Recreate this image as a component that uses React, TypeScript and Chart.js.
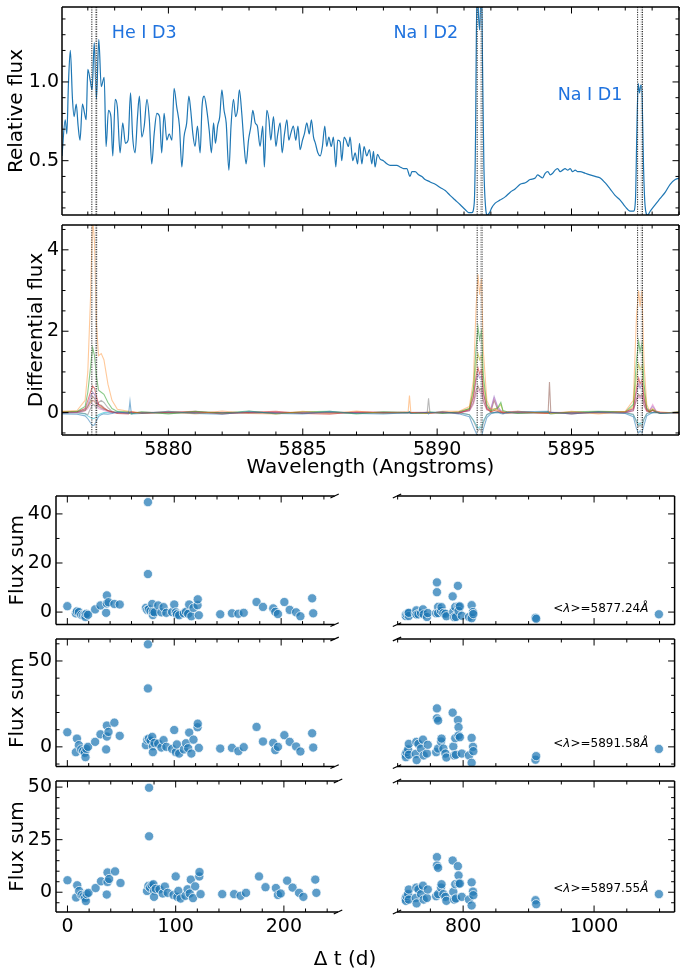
import React, { useEffect, useRef } from 'react';
import { Chart, registerables } from 'chart.js';
Chart.register(...registerables);

const FAMILY = "'DejaVu Sans', 'Liberation Sans', sans-serif";

// ---------------- spectrum (top panel) ----------------
const specWave = [
  5876.04, 5876.16, 5876.22, 5876.28, 5876.35, 5876.43, 5876.49, 5876.57, 5876.64, 5876.71,
  5876.80, 5876.88, 5876.94, 5877.00, 5877.09, 5877.16, 5877.24, 5877.32, 5877.41, 5877.50,
  5877.61, 5877.68, 5877.77, 5877.86, 5877.93, 5878.02, 5878.10, 5878.20, 5878.30, 5878.40,
  5878.50, 5878.59, 5878.67, 5878.76, 5878.85, 5878.92, 5879.01, 5879.10, 5879.20, 5879.29,
  5879.38, 5879.47, 5879.57, 5879.67, 5879.75, 5879.84, 5879.94, 5880.03, 5880.13, 5880.21,
  5880.31, 5880.41, 5880.50, 5880.58, 5880.68, 5880.76, 5880.83, 5880.91, 5880.99, 5881.08,
  5881.18, 5881.25, 5881.33, 5881.43, 5881.52, 5881.60, 5881.68, 5881.75, 5881.83, 5881.91,
  5881.99, 5882.07, 5882.15, 5882.25, 5882.33, 5882.42, 5882.50, 5882.57, 5882.64, 5882.73,
  5882.82, 5882.89, 5882.98, 5883.07, 5883.14, 5883.23, 5883.31, 5883.41, 5883.51, 5883.57,
  5883.66, 5883.74, 5883.81, 5883.91, 5884.00, 5884.07, 5884.16, 5884.23, 5884.32, 5884.41,
  5884.48, 5884.55, 5884.65, 5884.74, 5884.82, 5884.90, 5884.99, 5885.06, 5885.15, 5885.24,
  5885.32, 5885.40, 5885.47, 5885.56, 5885.65, 5885.73, 5885.82, 5885.89, 5885.97, 5886.06,
  5886.14, 5886.23, 5886.30, 5886.39,
  5886.45, 5886.54, 5886.61, 5886.70, 5886.76, 5886.86, 5886.95, 5887.04, 5887.11, 5887.20,
  5887.28, 5887.38, 5887.48, 5887.57, 5887.63, 5887.69, 5887.78, 5887.88, 5888.00, 5888.13,
  5888.25, 5888.37, 5888.50, 5888.62, 5888.75, 5888.87, 5888.99, 5889.06, 5889.18, 5889.31,
  5889.43, 5889.55, 5889.68, 5889.80, 5889.93, 5890.11, 5890.30, 5890.48, 5890.67, 5890.86,
  5891.04, 5891.17, 5891.29, 5891.38, 5891.43, 5891.46, 5891.50, 5891.54, 5891.58, 5891.61,
  5891.65, 5891.69, 5891.74, 5891.80, 5891.87, 5891.95, 5892.03, 5892.16, 5892.34, 5892.53,
  5892.72, 5892.90, 5893.09, 5893.28, 5893.46, 5893.65, 5893.74, 5893.83, 5893.92, 5894.02,
  5894.12, 5894.21, 5894.30, 5894.39, 5894.48, 5894.58, 5894.67, 5894.76, 5894.86, 5894.95,
  5895.04, 5895.14, 5895.23, 5895.32, 5895.51, 5895.69, 5895.88, 5896.07, 5896.25, 5896.44,
  5896.62, 5896.81, 5896.99, 5897.18, 5897.31, 5897.38, 5897.43, 5897.48, 5897.53, 5897.58,
  5897.63, 5897.68, 5897.74, 5897.83, 5897.93, 5898.11, 5898.30, 5898.49, 5898.67, 5898.86,
  5899.04,
];
const specFlux = [
  0.53, 0.76, 0.67, 0.99, 1.20, 0.89, 0.78, 0.86, 0.72, 0.63,
  0.86, 0.80, 0.76, 1.08, 1.01, 0.95, 1.25, 0.89, 1.27, 0.97,
  1.03, 0.59, 0.82, 0.78, 0.53, 0.89, 0.84, 0.55, 0.74, 0.61,
  0.63, 0.93, 0.65, 0.55, 0.78, 0.91, 0.65, 0.72, 0.89, 0.76,
  0.48, 0.67, 0.80, 0.78, 0.55, 0.80, 0.63, 0.67, 0.63, 0.96,
  0.84, 0.72, 0.46, 0.65, 0.74, 0.91, 0.82, 0.67, 0.59, 0.72,
  0.55, 0.84, 0.91, 0.82, 0.69, 0.55, 0.74, 0.61, 0.72, 0.78,
  0.95, 0.82, 0.74, 0.44, 0.72, 0.89, 0.78, 0.82, 0.95, 0.80,
  0.59, 0.48, 0.63, 0.72, 0.82, 0.74, 0.72, 0.59, 0.72, 0.46,
  0.82, 0.76, 0.63, 0.78, 0.59, 0.67, 0.74, 0.55, 0.67, 0.76,
  0.63, 0.67, 0.72, 0.63, 0.72, 0.57, 0.63, 0.67, 0.74, 0.67,
  0.76, 0.65, 0.61, 0.55, 0.53, 0.59, 0.72, 0.59, 0.65, 0.59,
  0.65, 0.46, 0.63, 0.62,
  0.50, 0.65, 0.63, 0.59, 0.65, 0.50, 0.55, 0.48, 0.61, 0.48,
  0.59, 0.53, 0.57, 0.48, 0.56, 0.46, 0.54, 0.51, 0.50, 0.48,
  0.47, 0.47, 0.47, 0.46, 0.45, 0.45, 0.40, 0.43, 0.43, 0.41,
  0.40, 0.38, 0.37, 0.36, 0.35, 0.33, 0.31, 0.28, 0.25, 0.22,
  0.19, 0.17, 0.17, 0.23, 0.67, 1.31, 1.60, 1.42, 1.33, 1.44,
  1.60, 1.10, 0.46, 0.21, 0.155, 0.17, 0.20, 0.23, 0.25, 0.27,
  0.30, 0.32, 0.35, 0.36, 0.38, 0.39, 0.41, 0.40, 0.39, 0.42,
  0.43, 0.41, 0.42, 0.44, 0.45, 0.43, 0.44, 0.45, 0.44, 0.45,
  0.43, 0.44, 0.43, 0.43, 0.42, 0.41, 0.40, 0.39, 0.36, 0.32,
  0.28, 0.25, 0.21, 0.18, 0.18, 0.25, 0.67, 0.99, 0.93, 0.98,
  0.89, 0.46, 0.21, 0.155, 0.18, 0.22, 0.26, 0.30, 0.35, 0.38,
  0.39,
];

const lineCenters = [5877.24, 5891.58, 5897.55];
const lineNames = ['He I D3', 'Na I D2', 'Na I D1'];
const lineNameWave = [5879.1, 5889.58, 5895.69];
const lineNameFlux = [1.311, 1.311, 0.913];

// ---------------- differential flux (second panel) ----------------
const diffWave = [
  5876.04, 5876.6, 5876.9, 5877.0, 5877.1, 5877.18, 5877.25, 5877.32, 5877.4, 5877.5, 5877.6, 5877.75, 5877.9, 5878.1, 5878.52, 5878.57, 5878.62, 5879.0,
  5880.0, 5881.0, 5882.0, 5883.0, 5884.0, 5885.0, 5886.0, 5887.0, 5888.0,
  5888.92, 5888.97, 5889.02, 5889.63, 5889.68, 5889.73, 5890.2,
  5890.8, 5891.2, 5891.35, 5891.45, 5891.52, 5891.58, 5891.65, 5891.72, 5891.85, 5892.0, 5892.12, 5892.25, 5892.37, 5892.45, 5892.6, 5893.0,
  5894.13, 5894.18, 5894.23, 5895.0, 5896.0,
  5897.0, 5897.3, 5897.42, 5897.5, 5897.55, 5897.62, 5897.7, 5897.8, 5897.9, 5898.02, 5898.15, 5898.3, 5899.0,
];
const diffBlue = [
  -0.03, -0.04, -0.08, -0.15, -0.25, -0.32, -0.3, -0.2, -0.1, -0.05, -0.03, -0.04, -0.02, 0.02, -0.02, 0.28, -0.03, -0.02,
  0.03, -0.02, -0.04, 0.03, -0.02, -0.03, 0.03, -0.02, -0.03,
  0.0, 0.02, -0.02, 0.01, -0.03, 0.0, 0.02,
  -0.03, -0.1, -0.35, -0.5, -0.6, -0.55, -0.6, -0.4, -0.12, -0.03, 0.0, 0.02, -0.02, -0.03, 0.0, 0.02,
  0.03, -0.02, 0.01, -0.03, 0.02,
  -0.02, -0.1, -0.4, -0.5, -0.45, -0.5, -0.3, -0.08, -0.04, 0.0, 0.02, -0.02, 0.0,
];
const diffOrange = [
  0.03, 0.05, 0.3, 1.0, 2.8, 4.8, 4.2, 2.2, 1.4, 1.45, 1.3, 0.7, 0.3, 0.08, 0.03, 0.02, 0.03, -0.02,
  0.03, -0.03, 0.04, -0.02, -0.03, 0.03, -0.02, 0.04, -0.02,
  0.02, 0.42, 0.01, -0.02, 0.03, -0.02, 0.03,
  0.03, 0.15, 0.8, 2.6, 3.4, 2.9, 3.3, 1.5, 0.3, 0.08, 0.1, 0.05, 0.03, 0.02, -0.02, 0.03,
  -0.02, 0.03, -0.02, 0.03, -0.03,
  0.03, 0.3, 2.4, 3.0, 2.6, 3.0, 1.2, 0.2, 0.05, 0.1, 0.03, 0.02, -0.02,
];
const diffGreen = [
  0.02, 0.03, 0.15, 0.5, 1.1, 1.6, 1.4, 0.9, 0.55, 0.5, 0.45, 0.25, 0.1, 0.03, 0.02, -0.02, -0.03, 0.02,
  -0.03, 0.03, -0.01, 0.04, -0.03, 0.02, 0.03, -0.03, 0.02,
  0.0, 0.02, -0.01, -0.02, 0.0, 0.02, -0.02,
  0.02, 0.1, 0.6, 1.6, 2.1, 1.8, 2.0, 0.9, 0.2, 0.05, 0.08, 0.12, 0.25, 0.05, 0.02, -0.02,
  0.02, -0.02, -0.03, 0.02, 0.03,
  0.02, 0.2, 1.3, 1.75, 1.5, 1.7, 0.7, 0.12, 0.03, 0.08, 0.02, -0.02, 0.02,
];
const diffRed = [
  0.02, 0.02, 0.1, 0.3, 0.5, 0.65, 0.6, 0.4, 0.2, 0.15, 0.1, 0.05, 0.02, -0.02, -0.03, 0.01, 0.02, -0.02,
  0.01, 0.03, -0.03, 0.01, 0.03, -0.02, -0.04, 0.02, 0.01,
  0.01, 0.0, 0.0, 0.01, 0.0, -0.01, 0.02,
  -0.02, 0.08, 0.4, 0.9, 1.1, 0.95, 1.05, 0.5, 0.1, 0.02, 0.05, 0.03, 0.01, -0.02, 0.02, 0.03,
  -0.02, 0.02, 0.01, -0.03, 0.02,
  0.02, 0.1, 0.6, 0.85, 0.7, 0.8, 0.35, 0.06, 0.02, 0.05, 0.01, -0.02, 0.02,
];
const diffPurple = [
  0.0, 0.01, 0.08, 0.2, 0.4, 0.5, 0.45, 0.3, 0.15, 0.1, 0.08, 0.04, 0.01, 0.0, 0.0, 0.01, 0.0, 0.0,
  0.01, 0.0, 0.0, -0.01, 0.0, 0.01, 0.0, 0.0, 0.01,
  0.0, 0.0, 0.01, 0.0, 0.0, 0.0, -0.01,
  0.01, 0.06, 0.35, 0.8, 0.95, 0.85, 0.9, 0.45, 0.12, 0.1, 0.4, 0.15, 0.05, 0.02, 0.0, 0.0,
  0.0, 0.0, 0.01, 0.0, 0.0,
  0.0, 0.08, 0.5, 0.7, 0.6, 0.7, 0.3, 0.08, 0.05, 0.15, 0.03, 0.0, 0.0,
];
const diffBrown = [
  0.0, 0.01, 0.05, 0.15, 0.3, 0.4, 0.35, 0.25, 0.2, 0.18, 0.12, 0.05, 0.02, 0.0, 0.0, 0.0, 0.0, 0.01,
  0.0, 0.01, 0.0, 0.0, 0.01, -0.01, 0.0, 0.0, 0.0,
  0.0, 0.0, 0.0, 0.0, 0.0, 0.0, 0.0,
  0.0, 0.05, 0.25, 0.55, 0.65, 0.55, 0.6, 0.3, 0.08, 0.02, 0.3, 0.08, 0.02, 0.0, 0.0, 0.0,
  0.0, 0.75, 0.0, 0.0, 0.01,
  0.0, 0.05, 0.35, 0.45, 0.4, 0.45, 0.2, 0.04, 0.02, 0.06, 0.01, 0.0, 0.0,
];
const diffPink = [
  0.0, 0.0, 0.04, 0.1, 0.2, 0.3, 0.28, 0.18, 0.1, 0.08, 0.05, 0.02, 0.0, 0.0, 0.0, 0.0, 0.01, 0.0,
  0.0, 0.0, 0.01, 0.0, 0.0, 0.0, 0.0, 0.01, 0.0,
  0.0, 0.0, 0.0, 0.0, 0.0, 0.0, 0.0,
  0.0, 0.04, 0.2, 0.45, 0.55, 0.5, 0.5, 0.25, 0.06, 0.08, 0.35, 0.12, 0.03, 0.0, 0.0, 0.0,
  0.0, 0.0, 0.0, 0.0, 0.0,
  0.0, 0.04, 0.3, 0.4, 0.35, 0.4, 0.15, 0.03, 0.04, 0.2, 0.04, 0.0, 0.0,
];
const diffGray = [
  0.0, 0.0, -0.02, -0.05, 0.1, 0.2, 0.18, 0.12, 0.25, 0.3, 0.25, 0.12, 0.03, 0.0, 0.0, 0.0, 0.0, 0.0,
  0.0, 0.0, 0.0, 0.0, 0.0, 0.0, 0.0, 0.0, 0.0,
  0.0, 0.0, 0.0, 0.0, 0.35, 0.0, 0.0,
  0.0, -0.05, -0.2, -0.35, -0.45, -0.4, -0.45, -0.25, -0.05, 0.0, 0.0, 0.0, 0.0, 0.0, 0.0, 0.0,
  0.0, 0.0, 0.0, 0.0, 0.0,
  0.0, -0.04, -0.25, -0.35, -0.3, -0.35, -0.15, -0.02, 0.0, 0.0, 0.0, 0.0, 0.0,
];
const diffOlive = [
  0.0, 0.02, 0.06, 0.15, 0.25, 0.3, 0.28, 0.2, 0.15, 0.12, 0.08, 0.04, 0.01, 0.0, 0.0, 0.0, 0.0, 0.0,
  0.0, -0.01, 0.0, 0.0, 0.0, 0.0, 0.01, 0.0, 0.0,
  0.0, 0.0, 0.0, 0.0, 0.0, 0.0, 0.0,
  0.0, 0.1, 0.5, 1.2, 1.45, 1.3, 1.4, 0.7, 0.15, 0.03, 0.05, 0.1, 0.2, 0.03, 0.0, 0.0,
  0.0, 0.0, 0.0, 0.0, 0.0,
  0.0, 0.15, 0.9, 1.2, 1.05, 1.15, 0.5, 0.08, 0.02, 0.06, 0.02, 0.0, 0.0,
];
const diffCyan = [
  0.0, 0.0, -0.03, -0.08, -0.12, -0.15, -0.14, -0.1, -0.05, -0.02, 0.0, 0.0, 0.0, 0.0, 0.0, 0.0, 0.0, 0.0,
  0.0, 0.0, 0.0, 0.0, 0.0, 0.0, 0.0, 0.0, 0.0,
  0.0, 0.0, 0.0, 0.0, 0.0, 0.0, 0.0,
  0.0, -0.05, -0.18, -0.3, -0.38, -0.35, -0.38, -0.2, -0.05, 0.0, 0.0, 0.0, 0.0, 0.0, 0.0, 0.0,
  0.0, 0.0, 0.0, 0.0, 0.0,
  0.0, -0.05, -0.2, -0.3, -0.25, -0.3, -0.15, -0.03, 0.0, 0.0, 0.0, 0.0, 0.0,
];
const diffSeries = [diffBlue, diffOrange, diffGreen, diffRed, diffPurple, diffBrown, diffPink, diffGray, diffOlive, diffCyan];
const diffColors = ['31,119,180', '255,127,14', '44,160,44', '214,39,40', '148,103,189', '140,86,75', '227,119,194', '127,127,127', '188,189,34', '23,190,207'];

// ---------------- flux sums vs time ----------------
const epochs = [
  0, 8, 9, 10.8, 13, 14.8, 16.3, 17, 17.8, 19.4, 26, 31, 36.3, 37, 37, 38.5, 44, 49,
  73.5, 74.8, 75.4, 75.4, 76.3, 77.8, 79.4, 80, 80, 81.5, 85, 88, 90, 92.6,
  98, 100, 101.5, 102.5, 104.6, 109, 111, 113, 114, 116, 118, 121.8, 122, 123,
  143, 154, 160, 165, 177, 183, 192.6, 194.5, 197, 203, 208, 214, 218, 229, 230,
  712, 712.6, 713.6, 716, 717, 717, 727.6, 728.6, 729, 731.7, 735.7, 738.7, 739.7, 744.7, 746,
  758.8, 760, 760, 761.8, 761.8, 766.3, 767, 769.8, 772.9, 774.4,
  784, 785, 786.4, 788, 789, 792, 793, 793, 795, 798, 809, 813, 813, 815, 815.6, 910.5, 911.6, 1099,
];
const fluxSumHe = [
  2.4, -0.5, 0.3, 0, -1.1, -1.3, -1.2, -2.0, -0.7, -1.1, 1.1, 2.7, -0.3, 3.5, 6.8, 4.0, 3.3, 3.1,
  1.7, 0.9, 44.8, 15.5, 1.2, 0.4, 3.3, -1.2, 0.1, -0.1, 2.7, -0.1, 2.0, -0.3,
  0, 3.1, -0.1, -0.9, -1.3, -0.5, 0.1, -0.7, 3.1, -1.7, 1.7, 2.8, 5.2, -1.3,
  -0.9, -0.5, -0.7, -0.3, 4.1, 2.1, 1.5, 0.1, -0.8, 4.1, 0.9, -0.1, -1.7, 5.6, -0.5,
  -1.2, -1.6, -0.9, -0.5, -1.6, -0.3, -0.5, 0.7, -1.0, -0.9, -0.4, 1.1, -0.9, -2.0, -0.4,
  -0.5, 12.1, 8.1, 2.1, -0.4, 0.5, 2.0, -0.4, -0.7, -1.7,
  6.4, 0.1, -2.1, 2.1, -2.0, 10.7, 2.3, 0.5, 2.3, -1.5, -2.0, 2.8, -2.5, 0.0, -0.8, -2.3, -2.7, -0.9,
];
const fluxSumD2 = [
  8.5, -3.1, 4.8, 1, -1.5, -2.3, -3.5, -6, -1.2, 0, 2.9, 7.3, -1.5, 6, 12.4, 8.7, 14.1, 6.4,
  1, 4.2, 59.7, 34, 4.8, 3.7, 5.8, 0.4, -3.1, 2.3, 1.9, -0.4, 3.9, 0,
  -1.2, 9.8, -3.1, 1.4, -3.9, -1.5, 2.1, -0.8, 8.3, -3.9, 4.2, 11.4, 13.5, -0.6,
  -1, -0.6, -2.5, -0.2, 11.6, 3.1, 2.3, -1.9, 0, 6.8, 2.9, 0.2, -2.7, 7.9, -0.4,
  -4.4, -6, -3.1, -1.5, 1.7, -4.6, -4.1, 2.9, -7.7, 1.7, -1, 4.2, -5, -3.9, 1.2,
  -3.1, 22.4, 16.6, 15.3, -1, 3.1, 4.8, -1, -3.9, -6.2,
  19.9, 0.2, -5, 5, -4.6, 15.6, 11.4, 6.6, 5.6, -3.9, -5, 5.2, -9.3, 0, -2.5, -7.5, -5.4, -1.2,
];
const fluxSumD1 = [
  5.7, -2.5, 3.3, 0.6, -1.3, -1.9, -2.7, -4.2, -0.9, -0.3, 2, 5.2, -1.1, 4.9, 9.4, 6.3, 9.9, 4.4,
  0.6, 3, 49.7, 26.6, 2.2, 3.3, 3.8, 0.8, -2.2, 1.6, 1.4, -0.6, 2.7, -0.3,
  -1.3, 7.5, -2.2, 0.6, -3, -1.7, 1.4, -0.6, 6, -2.8, 2.8, 7.5, 9.6, -0.9,
  -0.9, -0.9, -1.7, -0.3, 7.5, 2.4, 2, -1.3, -0.6, 5.5, 2.2, -0.3, -2.2, 6, -0.3,
  -3, -4.1, -1.9, -0.9, 1.3, -3.5, -2.7, 2.2, -5.3, 1.4, -0.9, 3.1, -3.5, -2.7, 1.3,
  -1.9, 16.7, 12.7, 11.6, -0.9, 2.2, 3.8, -0.9, -2.2, -4.1,
  15.1, 0.2, -3.5, 3.8, -3, 12.4, 8, 4.1, 4.1, -2.2, -3.5, 4.7, -6.3, 0.3, -1.4, -3.8, -5.7, -0.9,
];
const rowValues = [fluxSumHe, fluxSumD2, fluxSumD1];
const rowMeanLabel = ['5877.24', '5891.58', '5897.55'];

// ---------------- tick labels ----------------
const waveTicks = [5880, 5885, 5890, 5895];
const fluxTicks = [0.5, 1.0];
const diffTicks = [0, 2, 4];
const dtTicksLeft = [0, 100, 200];
const dtTicksRight = [800, 1000];
const sumTicks = [[0, 20, 40], [0, 50], [0, 25, 50]];
const sumMinorStep = [10, 10, 5];
const sumRange = [[-5.1, 47.3], [-11.5, 62.8], [-9.4, 52.9]];

// ---------------- drawing helpers ----------------
const MAJ = 6.5;
const MIN = 3.5;

function minorValues(min: number, max: number, step: number, majors: number[]) {
  const out: number[] = [];
  const start = Math.ceil(min / step - 1e-9);
  const end = Math.floor(max / step + 1e-9);
  for (let k = start; k <= end; k++) {
    const v = +(k * step).toFixed(6);
    if (!majors.some((m) => Math.abs(m - v) < 1e-6)) out.push(v);
  }
  return out;
}

type Frame = {
  xMajor: number[]; xMinorStep: number; yMajor: number[]; yMinorStep: number;
  spineL: boolean; spineR: boolean; yTickL: boolean; yTickR: boolean;
  breakSide?: 'left' | 'right';
};

function drawFrame(chart: any, f: Frame) {
  const { ctx, chartArea: a } = chart;
  const xs = chart.scales.x, ys = chart.scales.y;
  ctx.save();
  ctx.strokeStyle = '#000';
  const seg = (x1: number, y1: number, x2: number, y2: number) => {
    ctx.beginPath(); ctx.moveTo(x1, y1); ctx.lineTo(x2, y2); ctx.stroke();
  };
  ctx.lineWidth = 1;
  const xt: [number, number][] = [
    ...f.xMajor.map((v) => [v, MAJ] as [number, number]),
    ...minorValues(xs.min, xs.max, f.xMinorStep, f.xMajor).map((v) => [v, MIN] as [number, number]),
  ];
  for (const [v, len] of xt) {
    const p = xs.getPixelForValue(v);
    if (p < a.left - 0.5 || p > a.right + 0.5) continue;
    seg(p, a.bottom, p, a.bottom - len);
    seg(p, a.top, p, a.top + len);
  }
  const yt: [number, number][] = [
    ...f.yMajor.map((v) => [v, MAJ] as [number, number]),
    ...minorValues(ys.min, ys.max, f.yMinorStep, f.yMajor).map((v) => [v, MIN] as [number, number]),
  ];
  for (const [v, len] of yt) {
    const p = ys.getPixelForValue(v);
    if (p < a.top - 0.5 || p > a.bottom + 0.5) continue;
    if (f.yTickL) seg(a.left, p, a.left + len, p);
    if (f.yTickR) seg(a.right, p, a.right - len, p);
  }
  ctx.lineWidth = 1.5;
  seg(a.left, a.top, a.right, a.top);
  seg(a.left, a.bottom, a.right, a.bottom);
  if (f.spineL) seg(a.left, a.top, a.left, a.bottom);
  if (f.spineR) seg(a.right, a.top, a.right, a.bottom);
  if (f.breakSide) {
    ctx.lineWidth = 1.2;
    const dx = 0.015 * (a.right - a.left);
    const dy = 0.015 * (a.bottom - a.top);
    const bx = f.breakSide === 'right' ? a.right : a.left;
    seg(bx - dx, a.top + dy, bx + dx, a.top - dy);
    seg(bx - dx, a.bottom + dy, bx + dx, a.bottom - dy);
  }
  ctx.restore();
}

function drawLineMarkers(chart: any) {
  const { ctx, chartArea: a } = chart;
  const xs = chart.scales.x;
  ctx.save();
  ctx.lineWidth = 1;
  ctx.setLineDash([1.2, 1.2]);
  for (const c of lineCenters) {
    for (const [off, col] of [[-0.09, '#222'], [0.09, '#222'], [0.045, '#999']] as [number, string][]) {
      const p = xs.getPixelForValue(c + off);
      ctx.strokeStyle = col;
      ctx.beginPath(); ctx.moveTo(p, a.top); ctx.lineTo(p, a.bottom); ctx.stroke();
    }
  }
  ctx.restore();
}

const tickFont = { family: FAMILY, size: 19 };
const titleFont = { family: FAMILY, size: 20 };

function noPad(s: any) {
  s.paddingTop = 0; s.paddingBottom = 0; s.paddingLeft = 0; s.paddingRight = 0;
}

function yAxis(min: number, max: number, width: number, ticks: number[], fmt: (v: number) => string, pad: number, title: string, titlePad: number) {
  return {
    type: 'linear', min, max,
    grid: { display: false, drawTicks: false },
    border: { display: false },
    afterFit: (s: any) => { s.width = width; noPad(s); },
    afterBuildTicks: (s: any) => { s.ticks = ticks.map((v) => ({ value: v })); },
    ticks: { font: tickFont, color: '#000', padding: pad, callback: (v: any) => fmt(Number(v)) },
    title: { display: !!title, text: title, font: titleFont, color: '#000', padding: { top: titlePad, bottom: 0 } },
  };
}

function buildSpectrum(canvas: HTMLCanvasElement) {
  return new Chart(canvas, {
    type: 'line',
    data: {
      datasets: [{
        data: specWave.map((x, i) => ({ x, y: specFlux[i] })),
        borderColor: '#1f77b4', borderWidth: 1.2, pointRadius: 0, fill: false,
        cubicInterpolationMode: 'monotone',
      }],
    },
    options: {
      animation: false, responsive: false, events: [],
      layout: { padding: { left: 0, right: 1, top: 7, bottom: 5 } },
      plugins: { legend: { display: false }, tooltip: { enabled: false } },
      scales: {
        x: { type: 'linear', min: 5876.04, max: 5899.0, display: false },
        y: yAxis(0.155, 1.476, 62, fluxTicks, (v) => v.toFixed(1), 3, 'Relative flux', 5),
      },
    } as any,
    plugins: [{
      id: 'decorTop',
      afterDatasetsDraw(chart: any) {
        drawLineMarkers(chart);
        drawFrame(chart, { xMajor: waveTicks, xMinorStep: 1, yMajor: fluxTicks, yMinorStep: 0.1, spineL: true, spineR: true, yTickL: true, yTickR: true });
        const { ctx } = chart;
        ctx.save();
        ctx.fillStyle = '#1f72de';
        ctx.font = `17.5px ${FAMILY}`;
        ctx.textAlign = 'center';
        ctx.textBaseline = 'middle';
        lineNames.forEach((n, i) => {
          ctx.fillText(n, chart.scales.x.getPixelForValue(lineNameWave[i]), chart.scales.y.getPixelForValue(lineNameFlux[i]));
        });
        ctx.restore();
      },
    }],
  });
}

function buildDiff(canvas: HTMLCanvasElement) {
  return new Chart(canvas, {
    type: 'line',
    data: {
      datasets: diffSeries.map((vals, k) => ({
        data: diffWave.map((x, i) => ({ x, y: vals[i] })),
        borderColor: `rgba(${diffColors[k]},${k === 1 ? 0.42 : 0.55})`,
        borderWidth: 1.1, pointRadius: 0, fill: false, tension: 0,
      })),
    },
    options: {
      animation: false, responsive: false, events: [],
      layout: { padding: { left: 0, right: 1, top: 5, bottom: 0 } },
      plugins: { legend: { display: false }, tooltip: { enabled: false } },
      scales: {
        x: {
          type: 'linear', min: 5876.04, max: 5899.0,
          grid: { display: false, drawTicks: false }, border: { display: false },
          afterFit: (s: any) => { s.height = 55; noPad(s); },
          afterBuildTicks: (s: any) => { s.ticks = waveTicks.map((v) => ({ value: v })); },
          ticks: { font: tickFont, color: '#000', padding: 4, maxRotation: 0, callback: (v: any) => String(v) },
          title: { display: true, text: 'Wavelength (Angstroms)', font: titleFont, color: '#000', padding: { top: 0, bottom: 10 } },
        },
        y: yAxis(-0.55, 4.61, 62, diffTicks, (v) => String(v), 3, 'Differential flux', 25),
      },
    } as any,
    plugins: [{
      id: 'decorDiff',
      afterDatasetsDraw(chart: any) {
        drawLineMarkers(chart);
        drawFrame(chart, { xMajor: waveTicks, xMinorStep: 1, yMajor: diffTicks, yMinorStep: 0.5, spineL: true, spineR: true, yTickL: true, yTickR: true });
      },
    }],
  });
}

const rowGeom = [
  { top: 490, h: 140, pt: 6, pb: 3 },
  { top: 632, h: 140, pt: 7, pb: 5 },
  { top: 772, h: 201, pt: 9, pb: 0 },
];

function scatterDataset(row: number) {
  const vals = rowValues[row];
  return {
    data: epochs.map((x, i) => ({ x, y: vals[i] })),
    pointRadius: 4.6,
    pointBackgroundColor: 'rgba(31,119,180,0.72)',
    pointBorderColor: 'rgba(255,255,255,0.9)',
    pointBorderWidth: 0.8,
    clip: 0,
  };
}

function xScale(min: number, max: number, ticks: number[], show: boolean) {
  if (!show) return { type: 'linear', min, max, display: false };
  return {
    type: 'linear', min, max,
    grid: { display: false, drawTicks: false }, border: { display: false },
    afterFit: (s: any) => { s.height = 61; noPad(s); },
    afterBuildTicks: (s: any) => { s.ticks = ticks.map((v) => ({ value: v })); },
    ticks: { font: tickFont, color: '#000', padding: 4, maxRotation: 0, callback: (v: any) => String(v) },
  };
}

function buildScatterLeft(row: number) {
  return (canvas: HTMLCanvasElement) => {
    const g = rowGeom[row];
    const last = row === 2;
    return new Chart(canvas, {
      type: 'scatter',
      data: { datasets: [scatterDataset(row)] },
      options: {
        animation: false, responsive: false, events: [],
        layout: { padding: { left: 0, right: last ? 82 : 2, top: g.pt, bottom: g.pb } },
        plugins: { legend: { display: false }, tooltip: { enabled: false } },
        scales: {
          x: xScale(-10.6, 250, dtTicksLeft, last),
          y: yAxis(sumRange[row][0], sumRange[row][1], 56, sumTicks[row], (v) => String(v), 4, 'Flux sum', 5.5),
        },
      } as any,
      plugins: [{
        id: 'decorL' + row,
        afterDatasetsDraw(chart: any) {
          drawFrame(chart, { xMajor: dtTicksLeft, xMinorStep: 20, yMajor: sumTicks[row], yMinorStep: sumMinorStep[row], spineL: true, spineR: false, yTickL: true, yTickR: false, breakSide: 'right' });
          if (last) {
            const { ctx } = chart;
            ctx.save();
            ctx.fillStyle = '#000';
            ctx.font = `20px ${FAMILY}`;
            ctx.textAlign = 'center';
            ctx.textBaseline = 'middle';
            ctx.fillText('\u0394 t (d)', 345, 188);
            ctx.restore();
          }
        },
      }],
    });
  };
}

function buildScatterRight(row: number) {
  return (canvas: HTMLCanvasElement) => {
    const g = rowGeom[row];
    const last = row === 2;
    return new Chart(canvas, {
      type: 'scatter',
      data: { datasets: [scatterDataset(row)] },
      options: {
        animation: false, responsive: false, events: [],
        layout: { padding: { left: 57, right: 1, top: g.pt, bottom: g.pb } },
        plugins: { legend: { display: false }, tooltip: { enabled: false } },
        scales: {
          x: xScale(699, 1123, dtTicksRight, last),
          y: { type: 'linear', min: sumRange[row][0], max: sumRange[row][1], display: false },
        },
      } as any,
      plugins: [{
        id: 'decorR' + row,
        afterDatasetsDraw(chart: any) {
          drawFrame(chart, { xMajor: dtTicksRight, xMinorStep: 50, yMajor: sumTicks[row], yMinorStep: sumMinorStep[row], spineL: false, spineR: true, yTickL: false, yTickR: true, breakSide: 'left' });
          const { ctx } = chart;
          const xr = chart.scales.x.getPixelForValue(1083);
          const yc = chart.scales.y.getPixelForValue(0) - 3;
          const parts: [string, boolean][] = [['<', false], ['\u03bb', true], ['>=' + rowMeanLabel[row], false], ['\u00c5', true]];
          ctx.save();
          ctx.fillStyle = '#000';
          ctx.textBaseline = 'middle';
          ctx.textAlign = 'left';
          const fontOf = (it: boolean) => `${it ? 'italic ' : ''}12px ${FAMILY}`;
          let total = 0;
          for (const [t, it] of parts) { ctx.font = fontOf(it); total += ctx.measureText(t).width; }
          let x = xr - total;
          for (const [t, it] of parts) { ctx.font = fontOf(it); ctx.fillText(t, x, yc); x += ctx.measureText(t).width; }
          ctx.restore();
        },
      }],
    });
  };
}

function ChartBox({ left, top, width, height, build }: { left: number; top: number; width: number; height: number; build: (c: HTMLCanvasElement) => Chart }) {
  const ref = useRef<HTMLCanvasElement>(null);
  useEffect(() => {
    const chart = build(ref.current as HTMLCanvasElement);
    return () => chart.destroy();
  }, []);
  return <canvas ref={ref} width={width} height={height} style={{ position: 'absolute', left, top, width, height }} />;
}

export default function App() {
  return (
    <div style={{ position: 'absolute', left: 0, top: 0, width: 680, height: 973, background: '#fff', overflow: 'hidden' }}>
      <ChartBox left={0} top={0} width={680} height={220} build={buildSpectrum} />
      <ChartBox left={0} top={220} width={680} height={270} build={buildDiff} />
      {rowGeom.map((g, r) => (
        <React.Fragment key={r}>
          <ChartBox left={0} top={g.top} width={r === 2 ? 420 : 340} height={g.h} build={buildScatterLeft(r)} />
          <ChartBox left={340} top={g.top} width={340} height={g.h} build={buildScatterRight(r)} />
        </React.Fragment>
      ))}
    </div>
  );
}
